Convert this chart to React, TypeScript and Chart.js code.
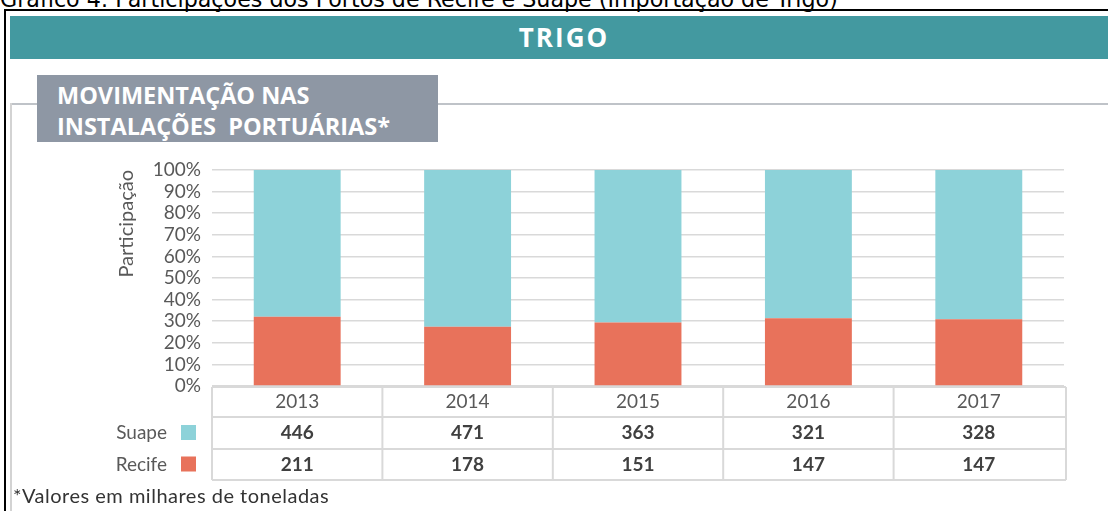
import React, { useEffect, useRef } from "react";
import { Chart, registerables } from "chart.js";

Chart.register(...registerables);

// ---- data ----
const years = ["2013", "2014", "2015", "2016", "2017"];
const suape = [446, 471, 363, 321, 328];
const recife = [211, 178, 151, 147, 147];
const seriesNames = ["Suape", "Recife"];

const SUAPE_COLOR = "#8DD2D9";
const RECIFE_COLOR = "#E8725B";
const TEXT_GREY = "#595959";
const BOLD_GREY = "#404040";
const FONT = "Lato, 'Open Sans', sans-serif";

const suapeShare = suape.map((v, i) => (v / (v + recife[i])) * 100);
const recifeShare = recife.map((v, i) => (v / (v + suape[i])) * 100);

const tablePlugin = {
  id: "tablePlugin",
  afterDraw(chart: any) {
    const { ctx, chartArea } = chart;
    const xs = chart.scales.x;
    const n = years.length;
    const w = (chartArea.right - chartArea.left) / n;
    const b = chartArea.bottom;
    const rows = [b + 1, b + 31, b + 63, b + 94];
    ctx.save();
    ctx.strokeStyle = "#D9D9D9";
    ctx.lineWidth = 2;
    rows.forEach((y) => {
      ctx.beginPath();
      ctx.moveTo(chartArea.left, y);
      ctx.lineTo(chartArea.right + 2, y);
      ctx.stroke();
    });
    for (let i = 0; i <= n; i++) {
      const x = chartArea.left + i * w + (i === n ? 2 : 0);
      ctx.beginPath();
      ctx.moveTo(x, rows[0]);
      ctx.lineTo(x, rows[3]);
      ctx.stroke();
    }
    ctx.textAlign = "center";
    ctx.textBaseline = "middle";
    const rowMid = [(rows[0] + rows[1]) / 2, (rows[1] + rows[2]) / 2, (rows[2] + rows[3]) / 2];
    years.forEach((yr, i) => {
      const cx = xs.getPixelForValue(i);
      ctx.font = `19px ${FONT}`;
      ctx.fillStyle = TEXT_GREY;
      ctx.fillText(yr, cx, rowMid[0]);
      ctx.font = `bold 19px ${FONT}`;
      ctx.fillStyle = BOLD_GREY;
      ctx.fillText(String(suape[i]), cx, rowMid[1]);
      ctx.fillText(String(recife[i]), cx, rowMid[2]);
    });
    // legend labels in table rows
    const swatch = [SUAPE_COLOR, RECIFE_COLOR];
    seriesNames.forEach((name, k) => {
      const y = rowMid[k + 1];
      ctx.font = `19px ${FONT}`;
      ctx.fillStyle = TEXT_GREY;
      ctx.textAlign = "right";
      ctx.fillText(name, chartArea.left - 45, y);
      ctx.fillStyle = swatch[k];
      ctx.fillRect(chartArea.left - 31, y - 8, 15, 15);
    });
    ctx.restore();
  },
};

export default function App() {
  const ref = useRef<HTMLCanvasElement | null>(null);

  useEffect(() => {
    if (!ref.current) return;
    const chart = new Chart(ref.current, {
      type: "bar",
      data: {
        labels: years,
        datasets: [
          {
            label: seriesNames[1],
            data: recifeShare,
            backgroundColor: RECIFE_COLOR,
            barPercentage: 0.51,
            categoryPercentage: 1,
          },
          {
            label: seriesNames[0],
            data: suapeShare,
            backgroundColor: SUAPE_COLOR,
            barPercentage: 0.51,
            categoryPercentage: 1,
          },
        ],
      },
      options: {
        responsive: false,
        animation: false,
        layout: { padding: { left: 113, right: 44, top: 170, bottom: 125 } },
        plugins: {
          legend: { display: false },
          tooltip: { enabled: false },
        },
        scales: {
          x: { stacked: true, display: false },
          y: {
            stacked: true,
            min: 0,
            max: 100,
            afterFit: (scale: any) => {
              scale.width = 99;
            },
            ticks: {
              stepSize: 10,
              autoSkip: false,
              padding: 11,
              color: TEXT_GREY,
              font: { family: FONT, size: 19 },
              callback: (v: any) => `${v}%`,
            },
            grid: { color: "#D9D9D9", lineWidth: 1.5, drawTicks: false },
            border: { display: false },
            title: {
              display: true,
              text: "Participação",
              align: "end",
              color: TEXT_GREY,
              font: { family: FONT, size: 20 },
              padding: { top: 2, bottom: 0 },
            },
          },
        },
      },
      plugins: [tablePlugin],
    });
    return () => chart.destroy();
  }, []);

  return (
    <div
      style={{
        position: "absolute",
        left: 0,
        top: 0,
        width: 1108,
        height: 511,
        overflow: "hidden",
        background: "#fff",
      }}
    >
      <div
        style={{
          position: "absolute",
          left: 0,
          top: -13,
          fontFamily: "'DejaVu Sans', sans-serif",
          fontSize: 22.2,
          lineHeight: "24px",
          whiteSpace: "nowrap",
          color: "#000",
        }}
      >
        Gráfico 4: Participações dos Portos de Recife e Suape (Importação de Trigo)
      </div>
      <div style={{ position: "absolute", left: 4, top: 9, width: 1104, height: 2, background: "#000" }} />
      <div style={{ position: "absolute", left: 4, top: 9, width: 2, height: 502, background: "#000" }} />
      <div
        style={{
          position: "absolute",
          left: 10,
          top: 16,
          width: 1098,
          height: 43,
          background: "#4399A0",
          color: "#fff",
          fontFamily: "'Open Sans', sans-serif",
          fontWeight: 700,
          fontSize: 26,
          letterSpacing: 2,
          lineHeight: "43px",
          textAlign: "center",
          paddingLeft: 10,
          boxSizing: "border-box",
        }}
      >
        TRIGO
      </div>
      <div style={{ position: "absolute", left: 10, top: 103, width: 1098, height: 2, background: "#BFC3C8" }} />
      <div style={{ position: "absolute", left: 10, top: 103, width: 2, height: 408, background: "#D3D3D3" }} />
      <div
        style={{
          position: "absolute",
          left: 37,
          top: 75,
          width: 401,
          height: 67,
          background: "#8E97A4",
          color: "#fff",
          fontFamily: "'Open Sans', sans-serif",
          fontWeight: 700,
          fontSize: 23.5,
          lineHeight: "31px",
          paddingLeft: 20,
          paddingTop: 5,
          boxSizing: "border-box",
          whiteSpace: "pre",
        }}
      >
        {"MOVIMENTAÇÃO NAS\nINSTALAÇÕES  PORTUÁRIAS*"}
      </div>
      <canvas
        ref={ref}
        width={1108}
        height={511}
        style={{ position: "absolute", left: 0, top: 0, width: 1108, height: 511 }}
      />
      <div
        style={{
          position: "absolute",
          left: 13,
          top: 484,
          fontFamily: FONT,
          fontSize: 20,
          letterSpacing: 0.5,
          lineHeight: "22px",
          whiteSpace: "nowrap",
          color: "#333",
        }}
      >
        *Valores em milhares de toneladas
      </div>
    </div>
  );
}
